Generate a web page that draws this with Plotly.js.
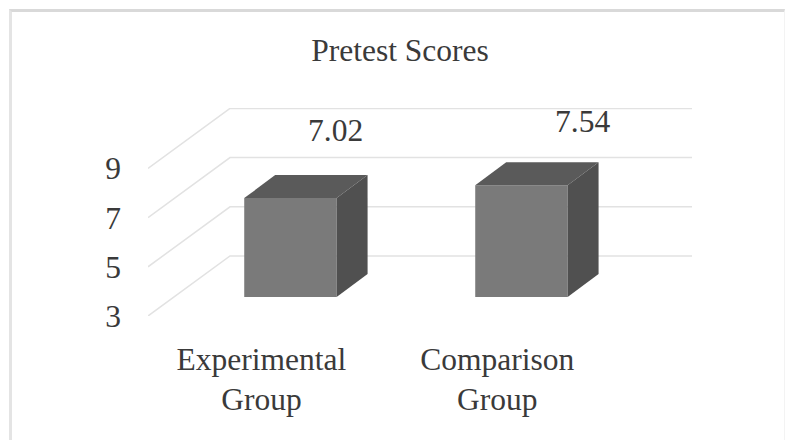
<!DOCTYPE html>
<html>
<head>
<meta charset="utf-8">
<script src="https://cdn.plot.ly/plotly-3.0.1.min.js"></script>
<style>
html,body{margin:0;padding:0;background:#fff;overflow:hidden}
#frame{position:absolute;left:9px;top:9px;width:776px;height:440px;border:1px solid #f3f3f3;border-left:3px solid #e4e4e4;border-top:3px solid #d9d9d9;box-sizing:border-box}
#chart{position:absolute;left:0;top:0;width:787px;height:440px}
</style>
</head>
<body>
<div id="frame"></div>
<div id="chart"></div>
<script>
var chartTitle = 'Pretest Scores';
var categories = ['Experimental<br>Group', 'Comparison<br>Group'];
var scores = [7.02, 7.54];
var scoreLabels = ['7.02', '7.54'];
var valueTicks = [3, 5, 7, 9];

// oblique projection: how far one unit of depth shifts a point, in axis units
var wallDepthX = 0.355, wallDepthY = 2.44;
var barOffsetX = 0.1126, barOffsetY = 0.772;
var barDepthX = 0.134, barDepthY = 0.935;
var barWidth = 0.4;
var baseValue = 3;
var xMin = -0.504, xMax = 1.851;

var SERIF = '"Liberation Serif","Times New Roman",serif';
var TEXT = '#3a3a3a';
var traces = [];

function poly(xs, ys, color) {
  traces.push({type:'scatter', mode:'lines', x:xs, y:ys, fill:'toself', fillcolor:color,
    line:{width:0, color:color}, hoverinfo:'skip', showlegend:false, cliponaxis:false});
}

// walls: diagonal on the side wall plus a line along the back wall for each tick
valueTicks.forEach(function (t) {
  traces.push({type:'scatter', mode:'lines',
    x:[xMin, xMin + wallDepthX, xMax],
    y:[t, t + wallDepthY, t + wallDepthY],
    line:{color:'#e2e2e2', width:1.5}, hoverinfo:'skip', showlegend:false, cliponaxis:false});
});

// bar faces: front, top, side
scores.forEach(function (v, i) {
  var l = i + barOffsetX - barWidth / 2, r = i + barOffsetX + barWidth / 2;
  var b = baseValue + barOffsetY, t = v + barOffsetY;
  poly([l, r, r, l, l], [b, b, t, t, b], '#7a7a7a');
  poly([l, r, r + barDepthX, l + barDepthX, l], [t, t, t + barDepthY, t + barDepthY, t], '#5a5a5a');
  poly([r, r + barDepthX, r + barDepthX, r, r], [b, b + barDepthY, t + barDepthY, t, b], '#505050');
});

var labelShiftX = [45, 61];
var labelShiftY = [25, 21];
var annotations = scores.map(function (v, i) {
  return {x:i + barOffsetX, y:v + barOffsetY + barDepthY, text:scoreLabels[i], showarrow:false,
    xref:'x', yref:'y', xanchor:'center', yanchor:'bottom', xshift:labelShiftX[i], yshift:labelShiftY[i],
    font:{family:SERIF, size:31.5, color:TEXT}};
});

var tickNudge = [-0.013, 0.008];
var layout = {
  width:787, height:440,
  margin:{l:148, r:95, t:108, b:124, pad:0},
  paper_bgcolor:'rgba(0,0,0,0)', plot_bgcolor:'rgba(0,0,0,0)',
  showlegend:false,
  title:{text:chartTitle, x:400/787, xanchor:'center', xref:'container', y:1-50/440, yanchor:'middle', yref:'container',
    font:{family:SERIF, size:31.5, color:TEXT}},
  xaxis:{range:[xMin, xMax], tickmode:'array', tickvals:categories.map(function (c, i) { return i + tickNudge[i]; }),
    ticktext:categories, showgrid:false, zeroline:false, showline:false, ticks:'', ticklabelstandoff:21,
    tickfont:{family:SERIF, size:31.5, color:TEXT}, automargin:false, tickangle:0},
  yaxis:{range:[baseValue, baseValue + 208/24.6], tickmode:'array', tickvals:valueTicks,
    ticktext:valueTicks.map(String), showgrid:false, zeroline:false, showline:false, ticks:'', ticklabelstandoff:26,
    tickfont:{family:SERIF, size:31.5, color:TEXT}, automargin:false},
  annotations:annotations
};

Plotly.newPlot('chart', traces, layout, {displayModeBar:false, staticPlot:true});
</script>
</body>
</html>
